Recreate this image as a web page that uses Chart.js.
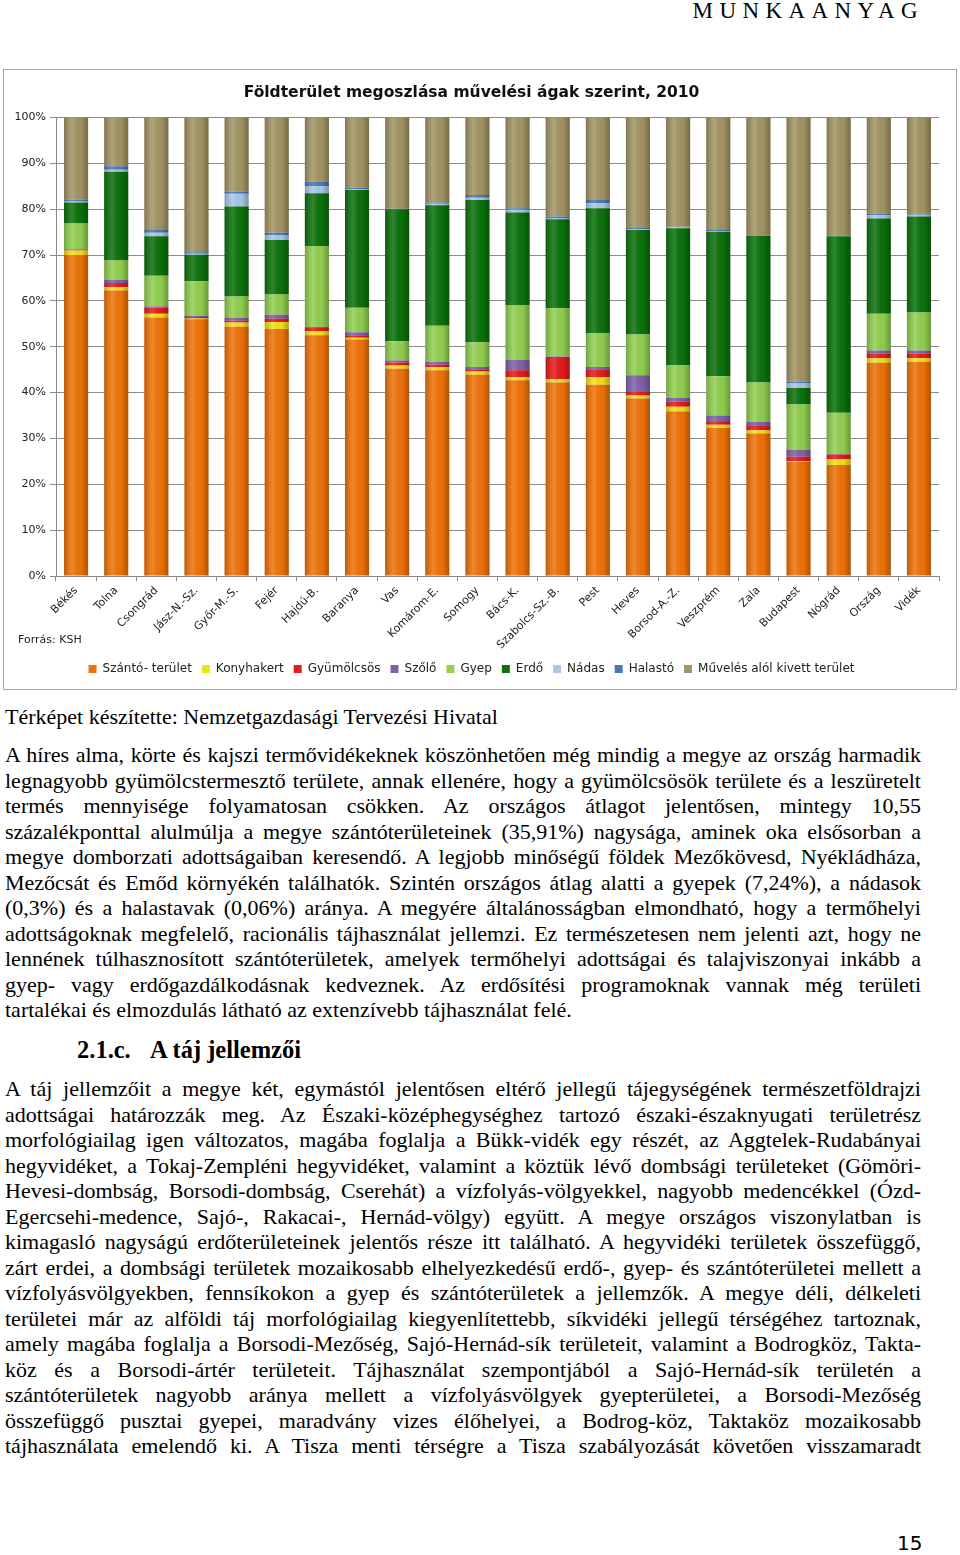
<!DOCTYPE html>
<html lang="hu">
<head>
<meta charset="utf-8">
<script src="https://cdn.jsdelivr.net/npm/chart.js@4.4.1/dist/chart.umd.min.js"></script>
<style>
  body { margin: 0; background: #fff; width: 960px; height: 1555px; position: relative; overflow: hidden; }
  .serif { font-family: "Liberation Serif", "Times New Roman", serif; color: #000; }
  #header { position: absolute; top: -2px; right: 36px; font-size: 23px; letter-spacing: 6.4px; }
  #box { position: absolute; left: 3px; top: 69px; width: 952px; height: 619px; border: 1px solid #a8a8a8; }
  #forras { position: absolute; left: 14px; top: 563px; font: 11px "DejaVu Sans", sans-serif; color: #222; }
  .txt { position: absolute; left: 5px; width: 916px; font-size: 22px; line-height: 25.5px; }
  .txt div { text-align: justify; text-align-last: justify; white-space: nowrap; }
  .txt div.last { text-align-last: left; }
  .h2 { position: absolute; top: 1035px; font-size: 24.5px; font-weight: bold; line-height: 30px; }
  #pageno { position: absolute; top: 1531px; left: 897px; font: 20px "DejaVu Sans", sans-serif; }
</style>
</head>
<body>
<div id="header" class="serif">MUNKAANYAG</div>

<div id="box">
  <canvas id="myChart"></canvas>
  <div id="forras">Forrás: KSH</div>
</div>

<div class="txt serif" style="top:704px"><div class="last">Térképet készítette: Nemzetgazdasági Tervezési Hivatal</div></div>

<div class="txt serif" style="top:742px">
<div>A híres alma, körte és kajszi termővidékeknek köszönhetően még mindig a megye az ország harmadik</div>
<div>legnagyobb gyümölcstermesztő területe, annak ellenére, hogy a gyümölcsösök területe és a leszüretelt</div>
<div>termés mennyisége folyamatosan csökken. Az országos átlagot jelentősen, mintegy 10,55</div>
<div>százalékponttal alulmúlja a megye szántóterületeinek (35,91%) nagysága, aminek oka elsősorban a</div>
<div>megye domborzati adottságaiban keresendő. A legjobb minőségű földek Mezőkövesd, Nyékládháza,</div>
<div>Mezőcsát és Emőd környékén találhatók. Szintén országos átlag alatti a gyepek (7,24%), a nádasok</div>
<div>(0,3%) és a halastavak (0,06%) aránya. A megyére általánosságban elmondható, hogy a termőhelyi</div>
<div>adottságoknak megfelelő, racionális tájhasználat jellemzi. Ez természetesen nem jelenti azt, hogy ne</div>
<div>lennének túlhasznosított szántóterületek, amelyek termőhelyi adottságai és talajviszonyai inkább a</div>
<div>gyep- vagy erdőgazdálkodásnak kedveznek. Az erdősítési programoknak vannak még területi</div>
<div class="last">tartalékai és elmozdulás látható az extenzívebb tájhasználat felé.</div>
</div>

<div class="h2 serif" style="left:77px">2.1.c.</div>
<div class="h2 serif" style="left:150px">A táj jellemzői</div>

<div class="txt serif" style="top:1076px">
<div>A táj jellemzőit a megye két, egymástól jelentősen eltérő jellegű tájegységének természetföldrajzi</div>
<div>adottságai határozzák meg. Az Északi-középhegységhez tartozó északi-északnyugati területrész</div>
<div>morfológiailag igen változatos, magába foglalja a Bükk-vidék egy részét, az Aggtelek-Rudabányai</div>
<div>hegyvidéket, a Tokaj-Zempléni hegyvidéket, valamint a köztük lévő dombsági területeket (Gömöri-</div>
<div>Hevesi-dombság, Borsodi-dombság, Cserehát) a vízfolyás-völgyekkel, nagyobb medencékkel (Ózd-</div>
<div>Egercsehi-medence, Sajó-, Rakacai-, Hernád-völgy) együtt. A megye országos viszonylatban is</div>
<div>kimagasló nagyságú erdőterületeinek jelentős része itt található. A hegyvidéki területek összefüggő,</div>
<div>zárt erdei, a dombsági területek mozaikosabb elhelyezkedésű erdő-, gyep- és szántóterületei mellett a</div>
<div>vízfolyásvölgyekben, fennsíkokon a gyep és szántóterületek a jellemzők. A megye déli, délkeleti</div>
<div>területei már az alföldi táj morfológiailag kiegyenlítettebb, síkvidéki jellegű térségéhez tartoznak,</div>
<div>amely magába foglalja a Borsodi-Mezőség, Sajó-Hernád-sík területeit, valamint a Bodrogköz, Takta-</div>
<div>köz és a Borsodi-ártér területeit. Tájhasználat szempontjából a Sajó-Hernád-sík területén a</div>
<div>szántóterületek nagyobb aránya mellett a vízfolyásvölgyek gyepterületei, a Borsodi-Mezőség</div>
<div>összefüggő pusztai gyepei, maradvány vizes élőhelyei, a Bodrog-köz, Taktaköz mozaikosabb</div>
<div>tájhasználata emelendő ki. A Tisza menti térségre a Tisza szabályozását követően visszamaradt</div>
</div>

<div id="pageno">15</div>

<script>
// megyék sorrendje a grafikonon
const labels = ['Békés','Tolna','Csongrád','Jász-N.-Sz.','Győr-M.-S.','Fejér','Hajdú-B.','Baranya','Vas','Komárom-E.','Somogy',
  'Bács-K.','Szabolcs-Sz.-B.','Pest','Heves','Borsod-A.-Z.','Veszprém','Zala','Budapest','Nógrád','Ország','Vidék'];

// művelési ágak aránya (%)
const szanto     = [70.0, 62.3, 56.4, 56.0, 54.4, 53.9, 52.5, 51.6, 45.2, 44.9, 43.9, 42.7, 42.2, 41.7, 38.7, 35.91, 32.3, 31.1, 24.9, 24.2, 46.5, 46.7];
const konyhakert = [1.0, 0.7, 0.8, 0.2, 0.9, 1.5, 0.9, 0.4, 0.7, 0.7, 0.7, 0.7, 0.7, 1.7, 0.7, 1.0, 0.7, 0.7, 0.2, 1.3, 1.0, 0.8];
const gyumolcsos = [0.2, 0.9, 1.3, 0.3, 0.4, 0.7, 0.7, 0.5, 0.7, 0.5, 0.5, 1.5, 4.9, 1.7, 0.9, 1.1, 0.6, 1.1, 0.9, 1.0, 1.0, 1.0];
const szolo      = [0.1, 0.7, 0.3, 0.2, 0.6, 0.9, 0.2, 0.7, 0.4, 0.6, 0.5, 2.3, 0.1, 0.5, 3.5, 0.8, 1.4, 0.7, 1.5, 0.1, 0.7, 0.7];
const gyep       = [5.6, 4.2, 6.7, 7.6, 4.7, 4.4, 17.7, 5.3, 4.2, 7.9, 5.4, 11.9, 10.5, 7.4, 8.9, 7.24, 8.6, 8.6, 9.9, 9.0, 8.0, 8.3];
const erdo       = [4.6, 19.4, 8.6, 5.8, 19.6, 11.9, 11.5, 25.7, 28.8, 26.3, 31.0, 20.2, 19.4, 27.2, 22.8, 29.8, 31.5, 32.0, 3.6, 38.5, 20.8, 20.9];
const nadas      = [0.2, 0.4, 0.8, 0.2, 2.8, 1.1, 1.5, 0.1, 0.0, 0.3, 0.5, 0.6, 0.2, 1.1, 0.1, 0.3, 0.1, 0.0, 1.0, 0.0, 0.7, 0.4];
const halasto    = [0.4, 0.8, 0.6, 0.3, 0.4, 0.5, 1.0, 0.4, 0.1, 0.3, 0.6, 0.3, 0.4, 0.7, 0.3, 0.06, 0.3, 0.1, 0.4, 0.1, 0.4, 0.3];
const kivett     = [17.9, 10.6, 24.5, 29.4, 16.2, 25.1, 14.0, 15.3, 19.9, 18.5, 16.9, 19.8, 21.6, 18.0, 24.1, 23.79, 24.5, 25.7, 57.6, 25.8, 20.9, 20.9];

const seriesNames = ['Szántó- terület','Konyhakert','Gyümölcsös','Szőlő','Gyep','Erdő','Nádas','Halastó','Művelés alól kivett terület'];
const seriesData = [szanto, konyhakert, gyumolcsos, szolo, gyep, erdo, nadas, halasto, kivett];
const colors = ['#F07308','#F2E218','#E61B1B','#7E62A8','#92D050','#0B720B','#A9C8EC','#4A79B5','#A39564'];

// henger-hatás: sötét szélek, világos csík a bal oldalon
const hengerPlugin = {
  id: 'henger',
  afterDatasetsDraw(chart) {
    const c = chart.ctx;
    chart.data.datasets.forEach((ds, i) => {
      chart.getDatasetMeta(i).data.forEach(bar => {
        const left = bar.x - bar.width / 2;
        const top = Math.min(bar.y, bar.base);
        const h = Math.abs(bar.base - bar.y);
        if (h < 0.5) return;
        const g = c.createLinearGradient(left, 0, left + bar.width, 0);
        g.addColorStop(0, 'rgba(0,0,0,0.22)');
        g.addColorStop(0.35, 'rgba(255,255,255,0.14)');
        g.addColorStop(0.7, 'rgba(0,0,0,0.02)');
        g.addColorStop(1, 'rgba(0,0,0,0.28)');
        c.save();
        c.fillStyle = g;
        c.fillRect(left, top, bar.width, h);
        c.restore();
      });
    });
  }
};

Chart.defaults.font.family = '"DejaVu Sans", sans-serif';
Chart.defaults.color = '#222';

const ctx = document.getElementById('myChart').getContext('2d');
const myChart = new Chart(ctx, {
  type: 'bar',
  data: {
    labels: labels,
    datasets: seriesNames.map((name, i) => ({
      label: name,
      data: seriesData[i],
      backgroundColor: colors[i],
      borderWidth: 0,
      barPercentage: 0.6,
      categoryPercentage: 1.0
    }))
  },
  options: {
    responsive: true,
    maintainAspectRatio: false,
    animation: false,
    layout: { padding: { top: 2, right: 17, bottom: 4, left: 0 } },
    plugins: {
      title: {
        display: true,
        text: 'Földterület megoszlása művelési ágak szerint, 2010',
        font: { size: 15.5, weight: 'bold' },
        color: '#111',
        padding: { top: 12, bottom: 15 }
      },
      legend: {
        position: 'bottom',
        labels: { boxWidth: 8, boxHeight: 8, padding: 10, font: { size: 12 }, color: '#222' }
      },
      tooltip: { enabled: false }
    },
    scales: {
      x: {
        stacked: true,
        grid: { display: true, drawOnChartArea: false, color: '#888', tickLength: 5 },
        border: { color: '#888' },
        ticks: { maxRotation: 45, minRotation: 45, font: { size: 11 }, color: '#222', autoSkip: false },
        afterFit(scale) { scale.height = 77; }
      },
      y: {
        stacked: true,
        min: 0,
        max: 100,
        ticks: { stepSize: 10, callback: v => v + '%', font: { size: 11 }, color: '#222', padding: 4 },
        grid: { color: '#8c8c8c', tickLength: 6 },
        border: { color: '#888' },
        afterFit(scale) { scale.width = 52; }
      }
    }
  },
  plugins: [hengerPlugin]
});
</script>
</body>
</html>
